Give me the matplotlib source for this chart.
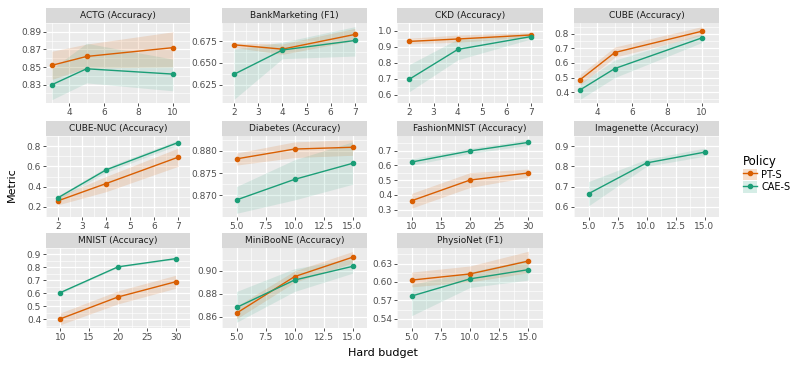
import numpy as np
import matplotlib
matplotlib.use('Agg')
import matplotlib.pyplot as plt
from matplotlib.patches import Patch
from matplotlib.lines import Line2D
from matplotlib.legend_handler import HandlerTuple

# ---- data ----
titles = ['ACTG (Accuracy)', 'BankMarketing (F1)', 'CKD (Accuracy)', 'CUBE (Accuracy)',
          'CUBE-NUC (Accuracy)', 'Diabetes (Accuracy)', 'FashionMNIST (Accuracy)', 'Imagenette (Accuracy)',
          'MNIST (Accuracy)', 'MiniBooNE (Accuracy)', 'PhysioNet (F1)']

budgets = [[3, 5, 10], [2, 4, 7], [2, 4, 7], [3, 5, 10],
           [2, 4, 7], [5, 10, 15], [10, 20, 30], [5, 10, 15],
           [10, 20, 30], [5, 10, 15], [5, 10, 15]]

pt_mean = [[0.852, 0.862, 0.872], [0.671, 0.666, 0.683], [0.935, 0.950, 0.975], [0.485, 0.672, 0.818],
           [0.260, 0.430, 0.690], [0.8782, 0.8804, 0.8808], [0.360, 0.500, 0.548], None,
           [0.405, 0.573, 0.690], [0.863, 0.895, 0.912], [0.603, 0.613, 0.634]]
pt_lo = [[0.836, 0.849, 0.850], [0.668, 0.660, 0.676], [0.920, 0.930, 0.960], [0.450, 0.640, 0.790],
         [0.220, 0.350, 0.600], [0.8768, 0.8785, 0.8790], [0.310, 0.450, 0.520], None,
         [0.360, 0.520, 0.640], [0.858, 0.890, 0.907], [0.592, 0.600, 0.615]]
pt_hi = [[0.868, 0.876, 0.890], [0.673, 0.672, 0.690], [0.955, 0.975, 0.990], [0.520, 0.710, 0.850],
         [0.300, 0.500, 0.780], [0.8795, 0.8820, 0.8825], [0.410, 0.550, 0.575], None,
         [0.450, 0.620, 0.740], [0.869, 0.900, 0.917], [0.616, 0.626, 0.650]]

cae_mean = [[0.830, 0.848, 0.842], [0.637, 0.665, 0.676], [0.698, 0.885, 0.965], [0.415, 0.562, 0.772],
            [0.290, 0.565, 0.835], [0.8690, 0.8736, 0.8772], [0.622, 0.697, 0.755], [0.665, 0.817, 0.870],
            [0.607, 0.805, 0.868], [0.868, 0.892, 0.904], [0.577, 0.605, 0.620]]
cae_lo = [[0.813, 0.832, 0.823], [0.608, 0.655, 0.658], [0.620, 0.820, 0.950], [0.350, 0.500, 0.740],
          [0.270, 0.540, 0.810], [0.8660, 0.8690, 0.8725], [0.600, 0.680, 0.735], [0.605, 0.800, 0.850],
          [0.600, 0.800, 0.860], [0.855, 0.882, 0.898], [0.545, 0.591, 0.603]]
cae_hi = [[0.848, 0.877, 0.859], [0.666, 0.674, 0.692], [0.790, 0.950, 0.985], [0.460, 0.620, 0.800],
          [0.310, 0.590, 0.860], [0.8720, 0.8780, 0.8820], [0.645, 0.715, 0.775], [0.725, 0.835, 0.890],
          [0.615, 0.810, 0.875], [0.882, 0.902, 0.911], [0.596, 0.616, 0.637]]

y_ticks = [[0.83, 0.85, 0.87, 0.89], [0.625, 0.650, 0.675], [0.6, 0.7, 0.8, 0.9, 1.0], [0.4, 0.5, 0.6, 0.7, 0.8],
           [0.2, 0.4, 0.6, 0.8], [0.870, 0.875, 0.880], [0.3, 0.4, 0.5, 0.6, 0.7], [0.6, 0.7, 0.8, 0.9],
           [0.4, 0.5, 0.6, 0.7, 0.8, 0.9], [0.86, 0.88, 0.90], [0.54, 0.57, 0.60, 0.63]]
y_fmt = ['%.2f', '%.3f', '%.1f', '%.1f', '%.1f', '%.3f', '%.1f', '%.1f', '%.1f', '%.2f', '%.2f']

x_ticks = [[4, 6, 8, 10], [2, 3, 4, 5, 6, 7], [2, 3, 4, 5, 6, 7], [4, 6, 8, 10],
           [2, 3, 4, 5, 6, 7], [5, 7.5, 10, 12.5, 15], [10, 15, 20, 25, 30], [5, 7.5, 10, 12.5, 15],
           [10, 15, 20, 25, 30], [5, 7.5, 10, 12.5, 15], [5, 7.5, 10, 12.5, 15]]
x_fmt = ['%g', '%g', '%g', '%g', '%g', '%.1f', '%g', '%.1f', '%g', '%.1f', '%.1f']

ORANGE = '#D95F02'
GREEN = '#1B9E77'

W, H = 793, 366
fig = plt.figure(figsize=(W / 100, H / 100), dpi=100)

col_x = [(46, 190), (222, 367), (397, 543), (574, 719)]
row_y = [(23, 103), (136, 217), (248, 328)]
strip_h = 15


def px_rect(x0, x1, y0, y1):
    return [x0 / W, 1 - y1 / H, (x1 - x0) / W, (y1 - y0) / H]


def minor_of(ticks):
    t = np.array(ticks, dtype=float)
    step = t[1] - t[0]
    return np.concatenate([[t[0] - step / 2], (t[:-1] + t[1:]) / 2, [t[-1] + step / 2]])


for i, title in enumerate(titles):
    r, c = divmod(i, 4)
    x0, x1 = col_x[c]
    y0, y1 = row_y[r]
    ax = fig.add_axes(px_rect(x0, x1, y0, y1))
    ax.set_facecolor('#EBEBEB')
    for s in ax.spines.values():
        s.set_visible(False)

    x = budgets[i]
    lo_all, hi_all = list(cae_lo[i]), list(cae_hi[i])
    if pt_mean[i] is not None:
        lo_all += pt_lo[i]
        hi_all += pt_hi[i]
        ax.fill_between(x, pt_lo[i], pt_hi[i], color=ORANGE, alpha=0.15, lw=0, zorder=2)
    ax.fill_between(x, cae_lo[i], cae_hi[i], color=GREEN, alpha=0.12, lw=0, zorder=2)
    if pt_mean[i] is not None:
        ax.plot(x, pt_mean[i], color=ORANGE, lw=1.0, marker='o', ms=3, zorder=4)
    ax.plot(x, cae_mean[i], color=GREEN, lw=1.0, marker='o', ms=3, zorder=4)

    # ggplot-style 5% expansion
    xr = max(x) - min(x)
    ax.set_xlim(min(x) - 0.05 * xr, max(x) + 0.05 * xr)
    ymin, ymax = min(lo_all), max(hi_all)
    yr = ymax - ymin
    ax.set_ylim(ymin - 0.05 * yr, ymax + 0.05 * yr)

    ax.set_xticks(x_ticks[i])
    ax.set_xticklabels([x_fmt[i] % v for v in x_ticks[i]])
    ax.set_yticks(y_ticks[i])
    ax.set_yticklabels([y_fmt[i] % v for v in y_ticks[i]])
    ax.set_xticks(minor_of(x_ticks[i]), minor=True)
    ax.set_yticks(minor_of(y_ticks[i]), minor=True)
    ax.grid(True, which='major', color='white', lw=0.9, zorder=1)
    ax.grid(True, which='minor', color='white', lw=0.45, zorder=1)
    ax.set_axisbelow(True)
    ax.tick_params(which='major', length=2, width=0.6, color='#333333',
                   labelsize=6.5, labelcolor='#4D4D4D', pad=1.5)
    ax.tick_params(which='minor', length=0)

    # strip
    sax = fig.add_axes(px_rect(x0, x1, y0 - strip_h, y0))
    sax.set_facecolor('#D9D9D9')
    sax.set_xticks([])
    sax.set_yticks([])
    for s in sax.spines.values():
        s.set_visible(False)
    sax.text(0.5, 0.5, title, ha='center', va='center', fontsize=6.5,
             color='#1A1A1A', transform=sax.transAxes)

fig.text(383 / W, 1 - 353 / H, 'Hard budget', ha='center', va='center', fontsize=8)
fig.text(12 / W, 1 - 185 / H, 'Metric', ha='center', va='center', fontsize=8, rotation=90)

# legend keys: ribbon box + line with point, like ggplot
handles = [(Patch(facecolor=ORANGE, alpha=0.2, lw=0), Line2D([], [], color=ORANGE, marker='o', ms=3, lw=1.0)),
           (Patch(facecolor=GREEN, alpha=0.18, lw=0), Line2D([], [], color=GREEN, marker='o', ms=3, lw=1.0))]
leg = fig.legend(handles, ['PT-S', 'CAE-S'], title='Policy',
                 handler_map={tuple: HandlerTuple(ndivide=1, pad=0)},
                 loc='upper left', bbox_to_anchor=(739 / W, 1 - 151 / H),
                 frameon=False, fontsize=7, title_fontsize=8.5,
                 handlelength=1.45, handleheight=1.45, handletextpad=0.45, labelspacing=0.1,
                 borderaxespad=0)
leg._legend_box.align = 'left'

fig.savefig('out.png', dpi=100)
